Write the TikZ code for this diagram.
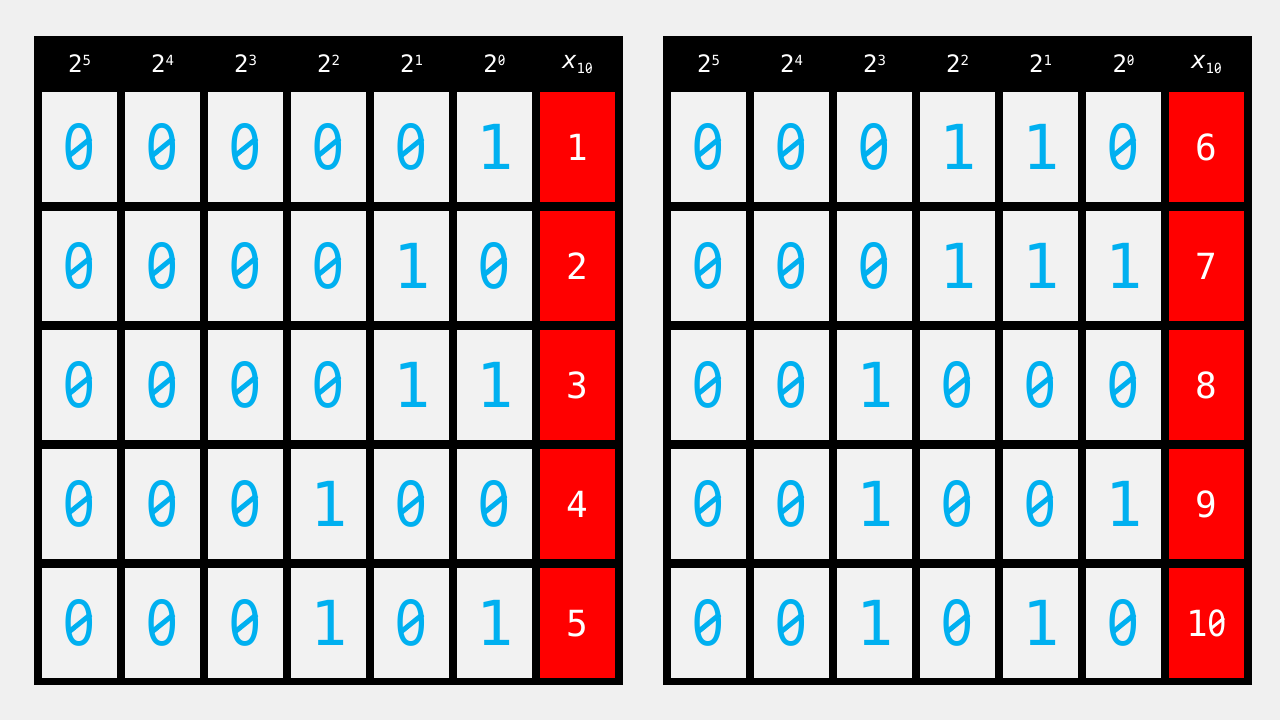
\documentclass[tikz,border=0pt]{standalone}
\usepackage{fontspec}
\newfontfamily\monof{DejaVu Sans Mono}
\newfontfamily\plainzerof{DejaVu Sans}
\definecolor{bg}{HTML}{F0F0F0}
\definecolor{cellbg}{HTML}{F2F2F2}
\definecolor{bitblue}{HTML}{00B0F0}
\definecolor{valred}{HTML}{FF0000}
\tikzset{
  frame/.style={fill=black},
  bitcell/.style={fill=cellbg, minimum width=75pt, minimum height=110pt, inner sep=0pt, anchor=north west, text=bitblue, font=\monof\fontsize{62}{62}\selectfont},
  valcell/.style={fill=valred, minimum width=75pt, minimum height=110pt, inner sep=0pt, anchor=north west, text=white, font=\monof\fontsize{36}{36}\selectfont},
  headlab/.style={text=white, inner sep=0pt, font=\monof\fontsize{24}{24}\selectfont}
}
% slashed zero
\newcommand{\sz}{\makebox[0pt][l]{\hspace{0.065em}\raisebox{0.219em}{\rotatebox{38.9}{\rule[-0.04em]{0.46em}{0.08em}}}}{\plainzerof\scalebox{0.85}[1]{0}}}
\newcommand{\supx}[1]{\raisebox{7.3pt}{\fontsize{14}{14}\selectfont #1}}
\newcommand{\subx}[1]{\raisebox{-5pt}{\fontsize{14}{14}\selectfont #1}}
\newcommand{\bitx}[1]{\raisebox{-2pt}{\ifnum#1=0\relax\sz\else1\fi}}
\begin{document}
\begin{tikzpicture}[x=1pt,y=-1pt]
\fill[bg] (0,0) rectangle (1280,720);
\useasboundingbox (0,0) rectangle (1280,720);
\foreach \t/\tn in {0/L,629/R}{
  \fill[frame] (34+\t,36) rectangle (623+\t,685);
  \foreach \e [count=\c from 0] in {5,4,3,2,1,\sz}{
    \node[headlab] (\tn-h-\c) at (79.5+\t+83*\c,64) {2\supx{\e}};
  }
  \node[headlab] (\tn-h-6) at (577.5+\t,65) {{\itshape x}\subx{1\sz}};
}
\foreach \r/\bits/\v in {0/{0,0,0,0,0,1}/1,1/{0,0,0,0,1,0}/2,2/{0,0,0,0,1,1}/3,3/{0,0,0,1,0,0}/4,4/{0,0,0,1,0,1}/5}{
  \foreach \b [count=\c from 0] in \bits{
    \node[bitcell] (L-\r-\c) at (42+83*\c,92+119*\r) {\bitx{\b}};
  }
  \node[valcell] (L-\r-v) at (540,92+119*\r) {\raisebox{-3pt}{\v}};
}
\foreach \r/\bits/\v in {0/{0,0,0,1,1,0}/6,1/{0,0,0,1,1,1}/7,2/{0,0,1,0,0,0}/8,3/{0,0,1,0,0,1}/9,4/{0,0,1,0,1,0}/1\sz}{
  \foreach \b [count=\c from 0] in \bits{
    \node[bitcell] (R-\r-\c) at (671+83*\c,92+119*\r) {\bitx{\b}};
  }
  \node[valcell] (R-\r-v) at (1169,92+119*\r) {\raisebox{-3pt}{\v}};
}
\end{tikzpicture}
\end{document}
